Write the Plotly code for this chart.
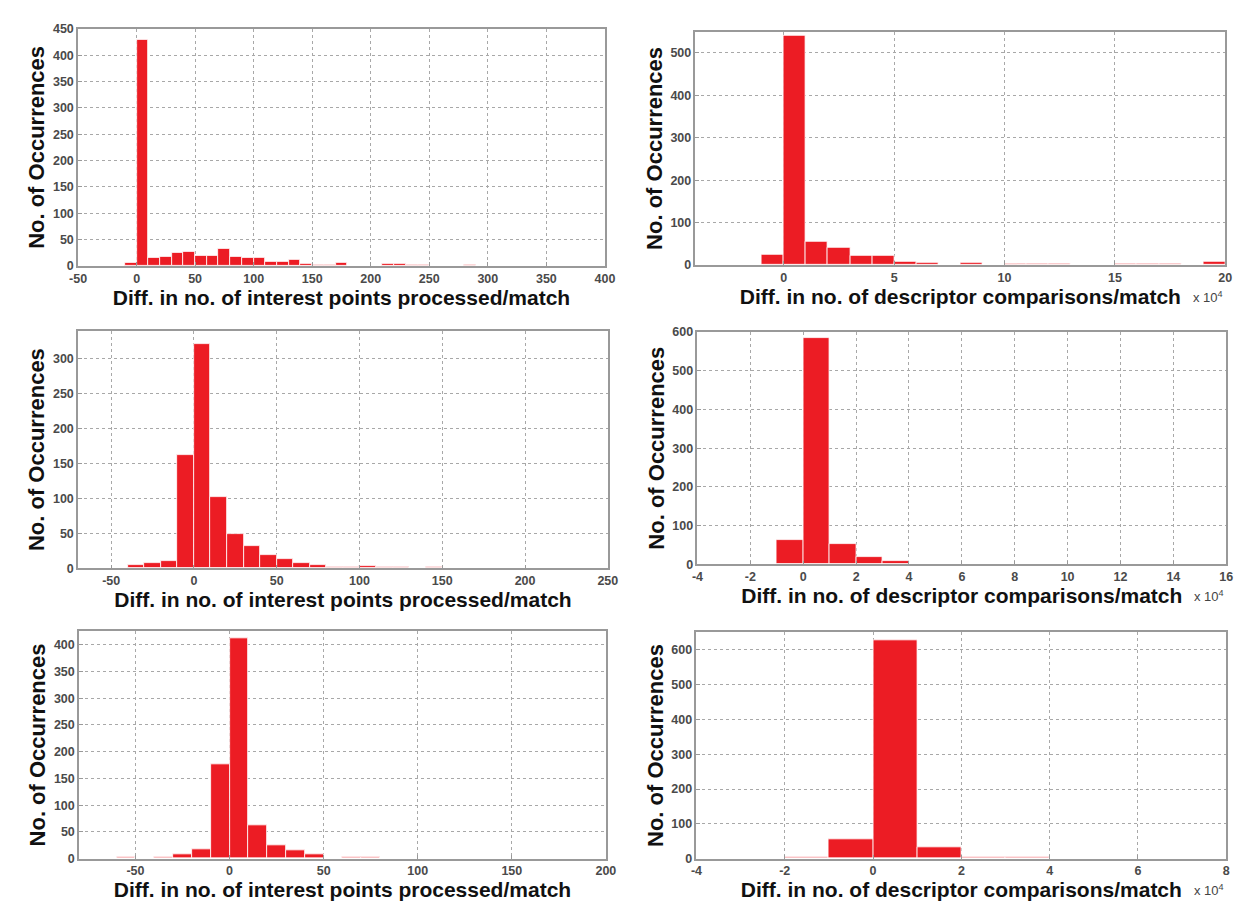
import plotly.graph_objects as go

# ---------------- data ----------------
# Panel 1: interest points (bin width 10)
p1_left = list(range(-10, 340, 10))
p1_count = [7, 430, 15, 18, 26, 27, 19, 20, 32, 18, 16, 16, 9, 8, 11, 5, 3, 2, 6, 0,
            1, 1, 5, 5, 2, 3, 1, 1, 1, 2, 0, 0, 0, 0, 1]
p1_xticks = [-50, 0, 50, 100, 150, 200, 250, 300, 350, 400]
# Panel 2: descriptor comparisons (x 10^4, bin width 1)
p2_left = list(range(-1, 20))
p2_count = [25, 540, 56, 40, 21, 22, 9, 5, 1, 5, 0, 2, 2, 2, 1, 0, 2, 2, 2, 0, 9]
p2_xticks = [0, 5, 10, 15, 20]
# Panel 3
p3_left = list(range(-50, 230, 10))
p3_count = [1, 5, 7, 10, 163, 322, 102, 49, 32, 19, 13, 8, 5, 2, 2, 3, 2, 2, 0, 2,
            0, 1, 1, 0, 1, 1, 1, 1]
p3_xticks = [-50, 0, 50, 100, 150, 200, 250]
# Panel 4
p4_left = list(range(-2, 16))
p4_count = [2, 63, 585, 52, 19, 9, 2, 2, 2, 0, 1, 2, 0, 0, 0, 0, 0, 2]
p4_xticks = [-4, -2, 0, 2, 4, 6, 8, 10, 12, 14, 16]
# Panel 5
p5_left = list(range(-70, 200, 10))
p5_count = [1, 2, 0, 3, 8, 17, 177, 412, 63, 26, 15, 8, 1, 2, 2, 0, 0, 0, 0, 0,
            0, 0, 0, 0, 0, 0, 1]
p5_xticks = [-50, 0, 50, 100, 150, 200]
# Panel 6
p6_left = list(range(-3, 7))
p6_count = [1, 3, 56, 628, 34, 3, 4, 1, 0, 1]
p6_xticks = [-4, -2, 0, 2, 4, 6, 8]

x_title_ip = "Diff. in no. of interest points processed/match"
x_title_dc = "Diff. in no. of descriptor comparisons/match"
y_title = "No. of Occurrences"

panels = [
    dict(left=p1_left, count=p1_count, width=10, xr=[-50, 400], xticks=p1_xticks,
         yr=[0, 450], ydt=50, box=(62, 597, 14, 255), xt=x_title_ip, sci=False),
    dict(left=p2_left, count=p2_count, width=1, xr=[-4, 20], xticks=p2_xticks,
         yr=[0, 550], ydt=100, box=(689, 1227, 17, 254), xt=x_title_dc, sci=True),
    dict(left=p3_left, count=p3_count, width=10, xr=[-70, 250], xticks=p3_xticks,
         yr=[0, 340], ydt=50, box=(62, 600, 321, 562), xt=x_title_ip, sci=False),
    dict(left=p4_left, count=p4_count, width=1, xr=[-4, 16], xticks=p4_xticks,
         yr=[0, 600], ydt=100, box=(691, 1228, 322, 558), xt=x_title_dc, sci=True),
    dict(left=p5_left, count=p5_count, width=10, xr=[-80, 200], xticks=p5_xticks,
         yr=[0, 425], ydt=50, box=(63, 598, 626, 857), xt=x_title_ip, sci=False),
    dict(left=p6_left, count=p6_count, width=1, xr=[-4, 8], xticks=p6_xticks,
         yr=[0, 650], ydt=100, box=(690, 1228, 627, 857), xt=x_title_dc, sci=True),
]

W, H = 1245, 901
RED = "#ec1c24"
FONT = "Liberation Sans, Arial, sans-serif"
fig = go.Figure()
layout = dict(width=W, height=H, margin=dict(l=0, r=0, t=0, b=0),
              paper_bgcolor="white", plot_bgcolor="white", showlegend=False,
              font=dict(family=FONT, color="#333"),
              bargap=0, annotations=[])

for i, p in enumerate(panels, start=1):
    xa = "x" if i == 1 else f"x{i}"
    ya = "y" if i == 1 else f"y{i}"
    fig.add_trace(go.Bar(x=p["left"], y=p["count"], width=p["width"], offset=0,
                         marker=dict(color=RED, line=dict(color="white", width=0.8)),
                         xaxis=xa, yaxis=ya))
    x0, x1, y0, y1 = p["box"]
    common = dict(showgrid=True, gridcolor="#a8a8a8", griddash="dot", gridwidth=1,
                  showline=True, linecolor="#999", linewidth=1.5, mirror=True,
                  ticks="inside", ticklen=4, tickcolor="#999", zeroline=False,
                  tickfont=dict(size=12.5, color="#4a4a4a", family=FONT, weight="bold"))
    layout["xaxis" if i == 1 else f"xaxis{i}"] = dict(
        domain=[x0 / W, x1 / W], anchor=ya, range=p["xr"],
        tickmode="array", tickvals=p["xticks"], ticktext=[str(v) for v in p["xticks"]],
        title=dict(text=f"<b>{p['xt']}</b>", font=dict(size=21, color="#111"), standoff=0),
        **common)
    layout["yaxis" if i == 1 else f"yaxis{i}"] = dict(
        domain=[1 - y1 / H, 1 - y0 / H], anchor=xa, range=p["yr"], tick0=0, dtick=p["ydt"],
        title=dict(text=f"<b>{y_title}</b>", font=dict(size=22, color="#111"), standoff=2),
        **common)
    if p["sci"]:
        layout["annotations"].append(dict(
            x=x1 / W, y=1 - (y1 + 22) / H, xref="paper", yref="paper",
            xanchor="right", yanchor="top", showarrow=False,
            text="x 10<sup>4</sup>", font=dict(size=13, color="#444")))

fig.update_layout(**layout)
fig.write_html("out.html")
